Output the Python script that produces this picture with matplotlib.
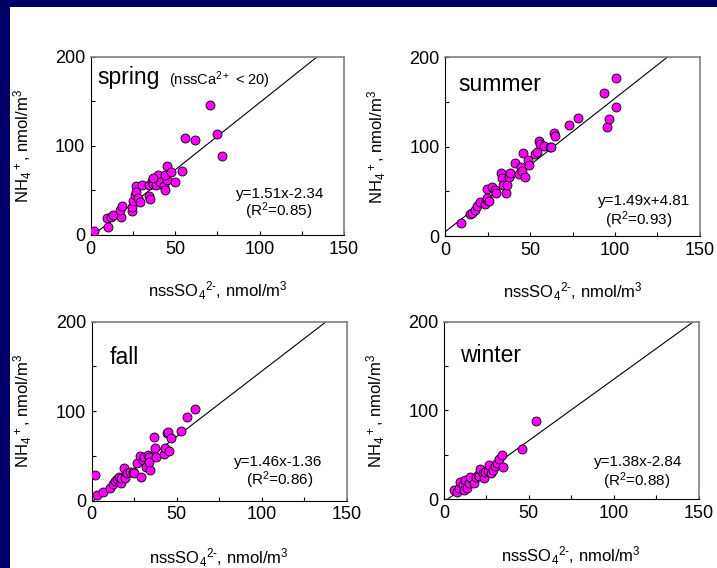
import matplotlib.pyplot as plt
import matplotlib.patches as mpatches
import numpy as np

plt.rcParams['font.family'] = ['Liberation Sans', 'DejaVu Sans']
plt.rcParams['mathtext.fontset'] = 'custom'
plt.rcParams['mathtext.rm'] = 'Liberation Sans'
plt.rcParams['mathtext.it'] = 'Liberation Sans:italic'
plt.rcParams['mathtext.bf'] = 'Liberation Sans:bold'

# spring (nssCa2+ < 20)
spring_x = [2, 9.5, 10, 11.8, 13.2, 18.1, 17.5, 18.7, 24.4, 24.6, 25, 26, 27, 27, 28, 29,
            30.6, 34.3, 35.1, 34.3, 36.3, 37.1, 38.9, 39.8, 40.8, 36.9, 43.4, 43.8, 45.4,
            45.4, 44.2, 47.4, 49.7, 54.2, 56, 61.5, 70.8, 75, 78]
spring_y = [5, 19.5, 9.5, 20.5, 23, 20.5, 28.5, 33, 27, 31.5, 38, 45, 55.5, 48, 42, 37,
            56, 44, 40, 56, 61, 57, 56, 67, 60, 63.5, 55, 50, 61.5,
            78, 67, 71, 59, 72, 109, 106.5, 146, 113, 88.5]

# summer
summer_x = [9.5, 14.4, 15.5, 17.7, 18.5, 20.5, 23.4, 24.4, 24.4, 24.8, 25.8, 27.5, 29.3,
            29.9, 33, 33.4, 34, 36, 36.6, 37.4, 38, 41, 43.4, 44.5, 45.4, 45.8, 46.8, 48.8,
            49.5, 52.7, 54, 55, 55.6, 58, 61.5, 62.5, 63.9, 64.9, 73, 78.2, 93.4, 95.5,
            96.3, 100.5, 100.5]
summer_y = [14.5, 25, 26, 29.5, 33.5, 38.5, 36, 40, 52.5, 43, 39.5, 54.5, 51,
            47.5, 70, 64.5, 57, 48.5, 57, 66, 70, 82, 69.5, 77.5, 73, 93, 65.8, 84.8,
            79.5, 91.4, 94, 106, 102.6, 100.7, 99.6, 99, 115.6, 112, 124, 131.6, 159.5, 122,
            130.5, 143.9, 177]

# fall
fall_x = [2.1, 3.3, 6.6, 10.8, 12.3, 13.7, 14.7, 15.9, 17, 17.4, 19, 19.4, 21, 22.5, 24.3,
          24.9, 26.8, 28.4, 28.8, 30.2, 30.8, 32.1, 33.1, 33.8, 34.1, 33.9, 36.6, 37, 37.6,
          42.5, 43.3, 44.5, 44.9, 45.3, 46.5, 52.3, 56, 61]
fall_y = [28.5, 6, 9.5, 13.8, 18.5, 22, 23.8, 26.5, 19.5, 25, 36, 25.5, 30.5, 32.4, 32,
          30.5, 41.8, 50.3, 26.8, 45.5, 49, 38, 51, 49, 34.3, 43.6, 71.5, 59.2, 49,
          51.8, 58.5, 75.3, 76.4, 55.6, 69.7, 77.5, 93, 103]

# winter
winter_x = [5.9, 7.5, 8.8, 9.4, 11.4, 11.8, 12.2, 13.7, 14.7, 15.7, 15.1, 17.7, 18.7, 20,
            20.6, 21.2, 23.1, 23.6, 24, 25.9, 26.5, 27.5, 29, 29.8, 31.4, 32.4, 34.3, 34.9,
            46.1, 54.4]
winter_y = [10.5, 8.5, 12.4, 20, 16, 11, 21.7, 12.4, 18, 23.6, 25.5, 18, 25.4, 27.8,
            26.2, 33.8, 29.3, 23.6, 31, 32.3, 38.6, 29.3, 33, 37.5, 40.5, 45, 49.9, 36.7,
            56.3, 88.6]

# fits: slope, intercept, R2
fits = [(1.51, -2.34, 0.85), (1.49, 4.81, 0.93), (1.46, -1.36, 0.86), (1.38, -2.84, 0.88)]
seasons = ['spring', 'summer', 'fall', 'winter']
data = [(spring_x, spring_y), (summer_x, summer_y), (fall_x, fall_y), (winter_x, winter_y)]

# panel layout in figure fraction
positions = [[0.1265, 0.5863, 0.3533, 0.3134],
             [0.6211, 0.5845, 0.3548, 0.3151],
             [0.1279, 0.1185, 0.3556, 0.3151],
             [0.6192, 0.1210, 0.3552, 0.3127]]
eq_pos = [(0.747, 0.23, 0.741, 0.131),
          (0.781, 0.196, 0.761, 0.089),
          (0.732, 0.218, 0.736, 0.116),
          (0.762, 0.212, 0.757, 0.103)]
label_pos = [(0.028, 0.886), (0.05, 0.844), (0.072, 0.80), (0.062, 0.807)]
xlab_y = [-0.25, -0.25, -0.255, -0.255]

fig = plt.figure(figsize=(7.17, 5.68), dpi=100)
fig.patch.set_facecolor('#000066')
# white slide area
fig.patches.append(mpatches.Rectangle((10/717, 0), 1 - 10/717, 1 - 7/568,
                                      transform=fig.transFigure, facecolor='white',
                                      edgecolor='none', zorder=-5))

for i in range(4):
    ax = fig.add_axes(positions[i])
    x, y = data[i]
    slope, icpt, r2 = fits[i]
    xx = np.array([0, 150])
    ax.plot(xx, slope*xx + icpt, color='black', lw=0.8, zorder=2)
    ax.scatter(x, y, s=42, facecolor='#FF00FF', edgecolor='black', linewidth=0.6, zorder=3)
    ax.set_xlim(0, 150)
    ax.set_ylim(0, 200)
    ax.set_xticks([0, 50, 100, 150])
    ax.set_yticks([0, 100, 200])
    ax.set_xticks([25, 75, 125], minor=True)
    ax.set_yticks([50, 150], minor=True)
    ax.tick_params(which='both', direction='in', length=3, width=0.8, labelsize=13, pad=4)
    for s in ['top', 'right']:
        ax.spines[s].set_color('#808080')
        ax.spines[s].set_linewidth(1.2)
    for s in ['left', 'bottom']:
        ax.spines[s].set_color('black')
        ax.spines[s].set_linewidth(0.8)

    ax.set_xlabel(r'nssSO$_4$$^{2\text{-}}$, nmol/m$^3$', fontsize=12)
    ax.set_ylabel('NH$_4$$^+$, nmol/m$^3$', fontsize=12)
    ax.xaxis.set_label_coords(0.5, xlab_y[i])
    ax.yaxis.set_label_coords(-0.225, 0.5)

    lx, ly = label_pos[i]
    ax.text(lx, ly, seasons[i], transform=ax.transAxes, fontsize=16.5, ha='left', va='center')
    ex, ey, rx, ry = eq_pos[i]
    sign = '+' if icpt >= 0 else '-'
    ax.text(ex, ey, 'y=%.2fx%s%.2f' % (slope, sign, abs(icpt)), transform=ax.transAxes,
            fontsize=11, ha='center', va='center')
    ax.text(rx, ry, '(R$^2$=%.2f)' % r2, transform=ax.transAxes,
            fontsize=11, ha='center', va='center')
    if i == 0:
        ax.text(0.31, 0.87, '(nssCa$^{2+}$ < 20)', transform=ax.transAxes,
                fontsize=10.5, ha='left', va='center')

plt.savefig('out.png', dpi=100, facecolor=fig.get_facecolor())
